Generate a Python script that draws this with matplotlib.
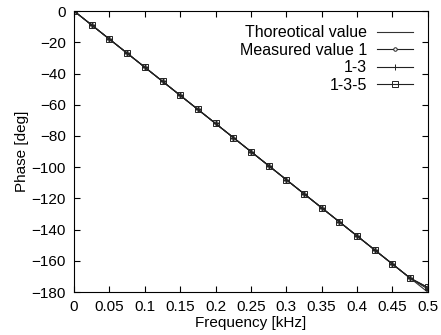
import numpy as np
import matplotlib
matplotlib.use("Agg")
import matplotlib.pyplot as plt

# === DATA ===
freq = [0.0, 0.025, 0.05, 0.075, 0.1, 0.125, 0.15, 0.175, 0.2, 0.225, 0.25,
        0.275, 0.3, 0.325, 0.35, 0.375, 0.4, 0.425, 0.45, 0.475, 0.5]
theory = [0, -9, -18, -27, -36, -45, -54, -63, -72, -81, -90,
          -99, -108, -117, -126, -135, -144, -153, -162, -171, -180]
meas_1 = [0, -9, -18, -27, -36, -45, -54, -63, -72, -81, -90,
          -99, -108, -117, -126, -135, -144, -153, -162, -171, -177]
meas_13 = [0, -9, -18, -27, -36, -45, -54, -63, -72, -81, -90,
           -99, -108, -117, -126, -135, -144, -153, -162, -171, -178]
meas_135 = [0, -9, -18, -27, -36, -45, -54, -63, -72, -81, -90,
            -99, -108, -117, -126, -135, -144, -153, -162, -171, -177]

xticks = [0, 0.05, 0.1, 0.15, 0.2, 0.25, 0.3, 0.35, 0.4, 0.45, 0.5]
xticklabels = ["0", "0.05", "0.1", "0.15", "0.2", "0.25", "0.3", "0.35", "0.4", "0.45", "0.5"]
yticks = list(range(-180, 1, 20))

plt.rcParams["font.family"] = ["Liberation Sans", "DejaVu Sans"]
plt.rcParams["font.size"] = 11

fig = plt.figure(figsize=(4.41, 3.35), dpi=100)
ax = fig.add_axes([0.168, 0.128, 0.802, 0.839])

ax.plot(freq, theory, color="#333333", lw=0.8, label="Thoreotical value")
ax.plot(freq, meas_1, color="#222222", lw=0.8, marker="o", ms=2.5, mfc="white",
        mew=0.7, label="Measured value 1")
ax.plot(freq, meas_13, color="#222222", lw=0.8, marker="+", ms=4.5, mew=0.7,
        label="1-3")
ax.plot(freq, meas_135, color="#222222", lw=0.8, marker="s", ms=4, mfc="none",
        mew=0.7, label="1-3-5")

ax.set_xlim(0, 0.5)
ax.set_ylim(-180, 0)
ax.set_xticks(xticks)
ax.set_xticklabels(xticklabels)
ax.set_yticks(yticks)
ax.tick_params(direction="in", top=True, right=True, length=4, width=0.8,
               labelsize=11, pad=6)
for s in ax.spines.values():
    s.set_linewidth(0.8)

ax.set_xlabel("Frequency [kHz]", fontsize=11, labelpad=1)
ax.set_ylabel("Phase [deg]", fontsize=11, labelpad=2)

ax.legend(loc="upper right", frameon=False, markerfirst=False, fontsize=11.5,
          handlelength=2.3, labelspacing=0.15, borderaxespad=0.5,
          handletextpad=0.6)

fig.savefig("out.png", dpi=100)
